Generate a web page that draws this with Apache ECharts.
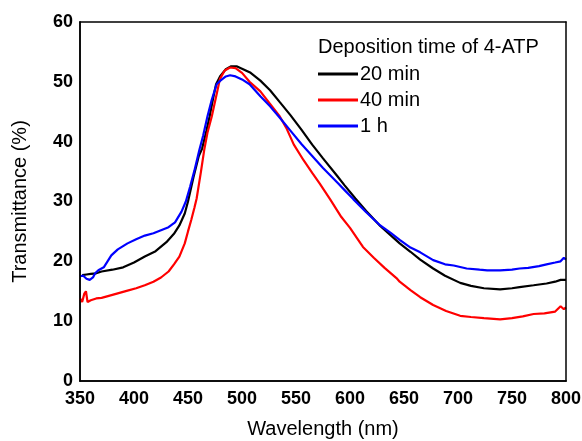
<!DOCTYPE html>
<html>
<head>
<meta charset="utf-8">
<script src="https://cdn.jsdelivr.net/npm/echarts@6/dist/echarts.min.js"></script>
<style>
html,body{margin:0;padding:0;background:#fff}
#wrap{position:relative;width:582px;height:441px}
#c,#f{position:absolute;left:0;top:0;width:582px;height:441px}
#f{pointer-events:none}
</style>
</head>
<body>
<div id="wrap"><div id="c"></div><div id="f"></div></div>
<script>
const legendTitle = 'Deposition time of 4-ATP';
const seriesNames = ['20 min', '40 min', '1 h'];
const xTicks = [350, 400, 450, 500, 550, 600, 650, 700, 750, 800];
const yTicks = [0, 10, 20, 30, 40, 50, 60];

const wl20 = [352,356,360,365,370,380,390,400,410,420,430,437,442,447,450,455,460,463,467,470,473,476,480,485,490,495,500,508,517,526,535,545,555,565,575,588,595,605,615,628,638,646,656,665,677,688,702,712,724,739,750,757,770,782,790,795,800];
const t20  = [17.7,17.8,17.9,18.0,18.3,18.6,19.0,19.8,20.8,21.7,23.2,24.6,26.0,28.0,30.0,34.0,37.6,38.8,41.8,44.2,47.0,49.6,51.0,52.1,52.6,52.6,52.2,51.5,50.2,48.6,46.6,44.4,42.0,39.5,37.2,34.3,32.7,30.5,28.4,25.9,24.3,23.0,21.6,20.3,18.8,17.6,16.4,15.9,15.5,15.3,15.5,15.7,16.0,16.3,16.6,16.9,16.9];

const wl40 = [350,352,354,355.5,357,360,365,370,380,394,402,410,418,425,432,437,442,447,450,453,456,458,462,465,468,472,476,479.6,484,489,494,500,507,517,526,535,541,548,557,565,572,581.5,592,600,612,622,632,643,646,656,665,677,689,702,712,724,739,750,760,770,780,790,795,798,800];
const t40  = [13.8,13.2,14.6,15.0,13.2,13.5,13.8,13.9,14.4,15.1,15.5,16.0,16.6,17.3,18.3,19.5,20.8,23.0,25.0,26.9,29.0,30.5,35.0,38.6,41.5,44.2,47.5,50.5,51.9,52.4,52.3,51.5,50.0,48.4,46.3,44.2,42.3,39.5,36.9,34.8,33.0,30.4,27.4,25.6,22.4,20.6,18.9,17.2,16.6,15.2,14.0,12.7,11.7,10.9,10.7,10.5,10.3,10.5,10.8,11.2,11.3,11.6,12.5,12.0,12.3];

const wl1h = [350,353,356,359,362,364,367,372,379,385,394,402,410,418,425,432,438,444,448,452,456,460.5,464,468,472,476.5,480,485,489,494,500,507,517,526,535,545,555,565,575,588,595,603,615,628,638,646,656,665,677,688,696,708,720,727,739,750,757,765,775,782,790,795,798,800];
const t1h  = [17.5,17.6,17.1,16.9,17.3,18.0,18.5,19.0,21.0,22.0,23.0,23.7,24.3,24.7,25.2,25.7,26.5,28.3,30.0,32.5,35.2,38.6,41.0,44.2,47.0,49.6,50.2,50.9,51.1,50.9,50.4,49.6,47.6,45.9,44.0,41.8,39.6,37.6,35.6,33.2,31.9,30.4,28.2,26.0,24.7,23.6,22.3,21.5,20.2,19.5,19.3,18.8,18.6,18.5,18.5,18.6,18.8,18.9,19.2,19.5,19.8,20.0,20.6,20.3];

const colors = ['#000000', '#ff0000', '#0000ff'];
function pairs(xs, ys) { return xs.map((x, i) => [x, ys[i]]); }
const dataSets = [pairs(wl20, t20), pairs(wl40, t40), pairs(wl1h, t1h)];

const FONT = 'Liberation Sans, Arial, sans-serif';
const GRID = {left: 80, right: 16, top: 22, bottom: 60, containLabel: false, outerBoundsMode: 'none'};
const X0 = xTicks[0], X1 = xTicks[xTicks.length - 1];
const Y0 = yTicks[0], Y1 = yTicks[yTicks.length - 1];

function tickStyle() { return {color: '#000', width: 1.5}; }
function axLine() { return {show: true, onZero: false, lineStyle: {color: '#000', width: 1.5}}; }

// ---- main chart: curves, labels, names, legend ----
const chart = echarts.init(document.getElementById('c'));
chart.setOption({
  animation: false,
  grid: Object.assign({}, GRID),
  title: {
    text: legendTitle, left: 313, top: 32,
    textStyle: {fontFamily: FONT, fontSize: 20, fontWeight: 'normal', color: '#000'}
  },
  legend: {
    data: seriesNames, orient: 'vertical', left: 313, top: 59,
    itemWidth: 40, itemHeight: 3, itemGap: 6,
    icon: 'rect',
    textStyle: {fontFamily: FONT, fontSize: 20, color: '#000', lineHeight: 20, padding: [0, 0, 0, -3]}
  },
  xAxis: {
    type: 'value', min: X0, max: X1, interval: 50,
    name: 'Wavelength (nm)', nameLocation: 'middle', nameGap: 38,
    nameTextStyle: {fontFamily: FONT, fontSize: 20, color: '#000'},
    axisLine: axLine(), axisTick: {show: false}, minorTick: {show: false},
    axisLabel: {fontFamily: FONT, fontSize: 18, fontWeight: 'bold', color: '#000', margin: 9},
    splitLine: {show: false}
  },
  yAxis: {
    type: 'value', min: Y0, max: Y1, interval: 10,
    name: 'Transmittance (%)', nameLocation: 'middle', nameGap: 50,
    nameTextStyle: {fontFamily: FONT, fontSize: 20, color: '#000'},
    axisLine: axLine(), axisTick: {show: false}, minorTick: {show: false},
    axisLabel: {fontFamily: FONT, fontSize: 18, fontWeight: 'bold', color: '#000', margin: 7},
    splitLine: {show: false}
  },
  series: seriesNames.map((n, i) => ({
    name: n, type: 'line',
    data: dataSets[i], showSymbol: false, symbol: 'none',
    lineStyle: {color: colors[i], width: 2.2}, itemStyle: {color: colors[i]}
  }))
});

// ---- overlay chart: frame with inward major/minor ticks on all four sides ----
function frameAxis(extra) {
  return Object.assign({
    type: 'value', axisLine: axLine(),
    axisTick: {inside: true, length: 6, lineStyle: tickStyle()},
    minorTick: {show: true, splitNumber: 2, length: 3, lineStyle: tickStyle()},
    axisLabel: {show: false}, splitLine: {show: false}
  }, extra);
}
const frame = echarts.init(document.getElementById('f'));
frame.setOption({
  animation: false,
  grid: Object.assign({}, GRID),
  xAxis: [frameAxis({position: 'bottom', min: X0, max: X1, interval: 50}),
          frameAxis({position: 'top', min: X0, max: X1, interval: 50})],
  yAxis: [frameAxis({position: 'left', min: Y0, max: Y1, interval: 10}),
          frameAxis({position: 'right', min: Y0, max: Y1, interval: 10})],
  series: [
    {type: 'line', xAxisIndex: 0, yAxisIndex: 0, data: [[X0, Y0]], showSymbol: false, lineStyle: {opacity: 0}, silent: true},
    {type: 'line', xAxisIndex: 1, yAxisIndex: 1, data: [[X0, Y0]], showSymbol: false, lineStyle: {opacity: 0}, silent: true}
  ]
});
</script>
</body>
</html>
